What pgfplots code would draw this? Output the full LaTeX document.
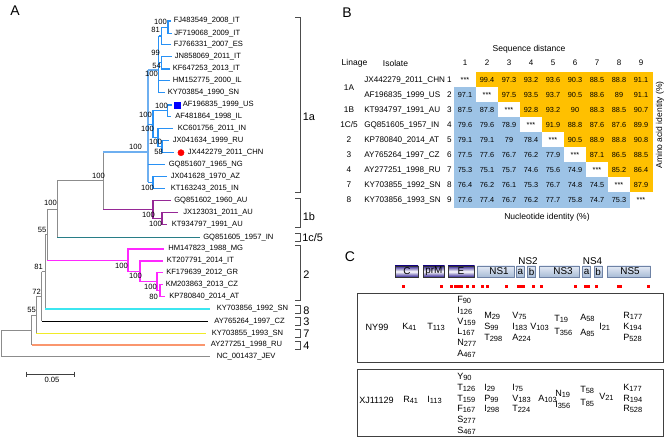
\documentclass[border=0pt]{standalone}
\usepackage{pgfplots}
\pgfplotsset{compat=1.18}
\usepackage{pgfplotstable}
\usepackage{fontspec}
\setmainfont{Liberation Sans}
\definecolor{cA}{RGB}{40,145,245}
\definecolor{cAs}{RGB}{110,175,240}
\definecolor{cB}{RGB}{150,40,150}
\definecolor{cC}{RGB}{40,125,135}
\definecolor{cTwo}{RGB}{255,40,255}
\definecolor{cEight}{RGB}{60,230,240}
\definecolor{cSeven}{RGB}{240,235,40}
\definecolor{cFour}{RGB}{250,150,110}
\definecolor{cG}{RGB}{140,140,140}
\definecolor{gD}{RGB}{55,40,150}
\definecolor{gLt}{RGB}{228,234,245}
\definecolor{gLb}{RGB}{168,188,214}
\definecolor{gLd}{RGB}{110,130,165}
\newcommand{\fs}[1]{\fontsize{#1}{#1}\selectfont}
\newcommand{\sg}[5]{\addplot[#1] coordinates {(#2,#3) (#4,#5)};}
\newcommand{\nd}[6]{\addplot[#1] coordinates {(#3,#4) (#2,#4) (#2,#6) (#5,#6)};}
\newcommand{\tip}[3]{\node[anchor=west,inner sep=0pt,font=\fs{5.7}] at (#1,#2) {#3};}
\newcommand{\bs}[3]{\node[anchor=east,inner sep=0pt,font=\fs{5.7}] at (#1,#2) {#3};}
\newcommand{\rs}[4]{\node[anchor=west,inner sep=0pt,font=\fs{6.8}] at (#1,#2) {#3\raisebox{-0.2ex}{\fs{5.6}#4}};}
\tikzset{gr/.style={cG,line width=0.7pt},
 a/.style={cA,line width=0.8pt},
 b1/.style={cB,line width=0.8pt},
 t2/.style={cTwo,line width=0.8pt},
 brk/.style={black!70,line width=0.6pt},
 gdk/.style={draw=black!80,line width=0.4pt,top color=gD,bottom color=gD,middle color=white},
 glt/.style={draw=gLd,line width=0.4pt,top color=gLt,bottom color=gLb}}
\pgfplotstableread{
x y c v
465 80 1 ***
487 80 2 99.4
509 80 2 97.3
531 80 2 93.2
553 80 2 93.6
575 80 2 90.3
597 80 2 88.5
619 80 2 88.8
641 80 2 91.1
465 95 0 97.1
487 95 1 ***
509 95 2 97.5
531 95 2 93.5
553 95 2 93.7
575 95 2 90.5
597 95 2 88.6
619 95 2 89
641 95 2 91.1
465 110 0 87.5
487 110 0 87.8
509 110 1 ***
531 110 2 92.8
553 110 2 93.2
575 110 2 90
597 110 2 88.3
619 110 2 88.5
641 110 2 90.7
465 125 0 79.6
487 125 0 79.6
509 125 0 78.9
531 125 1 ***
553 125 2 91.9
575 125 2 88.8
597 125 2 87.6
619 125 2 87.6
641 125 2 89.9
465 140 0 79.1
487 140 0 79.1
509 140 0 79
531 140 0 78.4
553 140 1 ***
575 140 2 90.5
597 140 2 88.9
619 140 2 88.8
641 140 2 90.8
465 155 0 77.5
487 155 0 77.6
509 155 0 76.7
531 155 0 76.2
553 155 0 77.9
575 155 1 ***
597 155 2 87.1
619 155 2 86.5
641 155 2 88.5
465 170 0 75.3
487 170 0 75.1
509 170 0 75.7
531 170 0 74.6
553 170 0 75.6
575 170 0 74.9
597 170 1 ***
619 170 2 85.2
641 170 2 86.4
465 185 0 76.4
487 185 0 76.2
509 185 0 76.1
531 185 0 75.3
553 185 0 76.7
575 185 0 74.8
597 185 0 74.5
619 185 1 ***
641 185 2 87.9
465 200 0 77.6
487 200 0 77.4
509 200 0 76.7
531 200 0 76.2
553 200 0 77.7
575 200 0 75.8
597 200 0 74.7
619 200 0 75.3
641 200 1 ***
}\hmtab
\begin{document}
\begin{tikzpicture}
\begin{axis}[x=0.75pt,y=0.75pt,y dir=reverse,xmin=0,xmax=667,ymin=0,ymax=438,
 hide axis,clip=false,
 colormap={hm}{rgb255=(157,195,230) rgb255=(255,255,255) rgb255=(255,192,0)},
 point meta min=0,point meta max=2]
\addplot[draw=none] coordinates {(0,0) (667,438)};
% ---------------- Panel A: tree
\sg{gr}{1}{330}{31.7}{330}
\sg{gr}{1}{330}{1}{356.7}
\sg{gr}{1}{356.7}{210}{356.7}
\sg{gr}{31.7}{315}{31.7}{345}
\sg{gr}{31.7}{315}{36}{315}
\sg{{cFour,line width=0.8pt}}{31.7}{345}{204.5}{345}
\sg{gr}{36}{296.5}{36}{333.3}
\sg{gr}{36}{296.5}{41.7}{296.5}
\sg{{cSeven,line width=0.9pt}}{36}{333.3}{206}{333.3}
\sg{gr}{41.7}{271.6}{41.7}{321.3}
\sg{gr}{41.7}{271.6}{45}{271.6}
\sg{{black,line width=0.7pt}}{41.7}{321.3}{208}{321.3}
\sg{gr}{45}{234.2}{45}{309}
\sg{gr}{45}{234.2}{47}{234.2}
\sg{{cEight,line width=0.8pt}}{45}{309}{210}{309}
\sg{gr}{47}{209}{47}{260.2}
\sg{gr}{47}{209}{57}{209}
\sg{t2}{47}{260.2}{128}{260.2}
\sg{gr}{57}{180.75}{57}{237.3}
\sg{gr}{57}{180.75}{103}{180.75}
\sg{{cC,line width=0.8pt}}{57}{237.3}{200}{237.3}
\sg{gr}{103}{152}{103}{209.5}
\sg{{cAs,line width=1.6pt}}{103}{152}{148}{152}
\sg{b1}{103}{209.5}{153}{209.5}
% 1a
\sg{{cAs,line width=1.4pt}}{148}{70}{148}{182.5}
\sg{{cAs,line width=1.4pt}}{148}{70}{158.5}{70}
\sg{a}{158.5}{36}{158.5}{92.7}
\sg{a}{158.5}{36}{161.5}{36}
\nd{a}{161.5}{168}{27.2}{171}{44.7}
\nd{a}{168}{171}{21}{172}{33.3}
\sg{a}{158.5}{62.9}{161.5}{62.9}
\nd{a}{161.5}{172}{56.7}{170}{69}
\sg{a}{158.5}{80.7}{170}{80.7}
\sg{a}{158.5}{92.7}{165}{92.7}
\sg{a}{148}{124.3}{153}{124.3}
\nd{a}{153}{167.7}{110.9}{158}{137.7}
\nd{a}{167.7}{172}{105}{171}{116.7}
\nd{a}{158}{173}{128.7}{162}{146.7}
\nd{a}{162}{169}{140.7}{174}{152.7}
\sg{a}{148}{164.7}{165}{164.7}
\sg{a}{148}{182.5}{153}{182.5}
\nd{a}{153}{167}{176.7}{165}{188.3}
% 1b
\nd{b1}{153}{171}{200.7}{162}{218.3}
\nd{b1}{162}{178}{212.3}{167}{224.3}
% 2
\nd{t2}{128}{164}{249}{140}{271.3}
\nd{t2}{140}{163}{261}{157}{281.7}
\nd{t2}{157}{163}{272.7}{160}{290.7}
\nd{t2}{160}{162.5}{284.7}{165}{296.7}
% markers
\addplot[only marks,mark=square*,mark size=2.2pt,color=blue] coordinates {(177,105)};
\addplot[only marks,mark=*,mark size=2.3pt,color=red] coordinates {(181,152.7)};
% tip labels
\tip{173.5}{21}{FJ483549\_2008\_IT}
\tip{174}{33.3}{JF719068\_2009\_IT}
\tip{173.5}{44.7}{FJ766331\_2007\_ES}
\tip{174.5}{56.7}{JN858069\_2011\_IT}
\tip{172.5}{69}{KF647253\_2013\_IT}
\tip{172.5}{80.7}{HM152775\_2000\_IL}
\tip{167.5}{92.7}{KY703854\_1990\_SN}
\tip{182.5}{105}{AF196835\_1999\_US}
\tip{175}{116.7}{AF481864\_1998\_IL}
\tip{177.5}{128.7}{KC601756\_2011\_IN}
\tip{172.5}{140.7}{JX041634\_1999\_RU}
\tip{187.5}{152.7}{JX442279\_2011\_CHN}
\tip{168.5}{164.7}{GQ851607\_1965\_NG}
\tip{170.5}{176.7}{JX041628\_1970\_AZ}
\tip{170.5}{188.3}{KT163243\_2015\_IN}
\tip{174}{200.7}{GQ851602\_1960\_AU}
\tip{183}{212.3}{JX123031\_2011\_AU}
\tip{171.5}{224.3}{KT934797\_1991\_AU}
\tip{203}{237.3}{GQ851605\_1957\_IN}
\tip{168}{249}{HM147823\_1988\_MG}
\tip{166.5}{261}{KT207791\_2014\_IT}
\tip{166}{272.7}{KF179639\_2012\_GR}
\tip{165.5}{284.7}{KM203863\_2013\_CZ}
\tip{169}{296.7}{KP780840\_2014\_AT}
\tip{216.5}{309}{KY703856\_1992\_SN}
\tip{214}{321.3}{AY765264\_1997\_CZ}
\tip{211.5}{333.3}{KY703855\_1993\_SN}
\tip{210.5}{345}{AY277251\_1998\_RU}
\tip{216.5}{356.7}{NC\_001437\_JEV}
% bootstrap
\bs{167}{22}{100}
\bs{160}{30}{81}
\bs{160}{53}{99}
\bs{161}{65.5}{54}
\bs{158}{73.5}{100}
\bs{168}{106}{100}
\bs{152}{115}{100}
\bs{154}{129}{100}
\bs{162}{142}{100}
\bs{163}{152}{58}
\bs{142}{147}{100}
\bs{105}{176}{100}
\bs{154}{188}{100}
\bs{57}{203}{100}
\bs{155}{215}{100}
\bs{162}{224}{100}
\bs{46.5}{230}{55}
\bs{128}{266}{100}
\bs{43}{267}{81}
\bs{142}{276}{100}
\bs{157}{287}{100}
\bs{41}{292}{72}
\bs{158}{297}{80}
\bs{36}{310}{55}
% brackets
\addplot[brk] coordinates {(295,17) (300,17) (300,192) (295,192)};
\addplot[brk] coordinates {(295,198) (300,198) (300,227) (295,227)};
\addplot[brk] coordinates {(295,233) (300,233) (300,241) (295,241)};
\addplot[brk] coordinates {(295,245) (300,245) (300,300) (295,300)};
\addplot[brk] coordinates {(295,305) (300,305) (300,313) (295,313)};
\addplot[brk] coordinates {(295,317) (300,317) (300,325) (295,325)};
\addplot[brk] coordinates {(295,329) (300,329) (300,337) (295,337)};
\addplot[brk] coordinates {(295,341) (300,341) (300,349) (295,349)};
\node[anchor=west,inner sep=0pt,font=\fs{8.2}] at (302.5,117) {1a};
\node[anchor=west,inner sep=0pt,font=\fs{8.2}] at (302.5,217) {1b};
\node[anchor=west,inner sep=0pt,font=\fs{8.2}] at (302,238) {1c/5};
\node[anchor=west,inner sep=0pt,font=\fs{8.2}] at (303,275) {2};
\node[anchor=west,inner sep=0pt,font=\fs{8.2}] at (303,310.5) {8};
\node[anchor=west,inner sep=0pt,font=\fs{8.2}] at (303,322) {3};
\node[anchor=west,inner sep=0pt,font=\fs{8.2}] at (303,334) {7};
\node[anchor=west,inner sep=0pt,font=\fs{8.2}] at (303,345.5) {4};
% scale bar
\addplot[black!75,line width=0.6pt] coordinates {(26.7,374) (74,374)};
\addplot[black!75,line width=0.6pt] coordinates {(26.7,371.5) (26.7,376.5)};
\addplot[black!75,line width=0.6pt] coordinates {(74,371.5) (74,376.5)};
\node[font=\fs{5.7},inner sep=0pt] at (52,380) {0.05};
\node[font=\fs{10.5},inner sep=0pt] at (15,10.5) {A};
% ---------------- Panel B
\node[font=\fs{10.5},inner sep=0pt] at (347,12.5) {B};
\addplot[matrix plot*,mesh/cols=9,point meta=explicit] table[x=x,y=y,meta=c] {\hmtab};
\addplot[draw=none,nodes near coords,point meta=explicit symbolic,
  every node near coord/.append style={anchor=center,inner sep=0pt,font=\fs{5.5},black}]
  table[x=x,y=y,meta=v] {\hmtab};
\node[font=\fs{6.4},inner sep=0pt] at (529,49) {Sequence distance};
\node[font=\fs{6.4},inner sep=0pt] at (354.5,63) {Linage};
\node[font=\fs{6.4},inner sep=0pt] at (395.5,63) {Isolate};
\foreach \j/\xx in {1/465,2/487,3/509,4/531,5/553,6/575,7/597,8/619,9/641}{
  \edef\tmp{\noexpand\node[font=\noexpand\fs{6},inner sep=0pt] at (\xx,63) {\j};}\tmp}
\node[font=\fs{6.2},inner sep=0pt] at (349,88) {1A};
\node[font=\fs{6.2},inner sep=0pt] at (349,110) {1B};
\node[font=\fs{6.2},inner sep=0pt] at (349,125) {1C/5};
\node[font=\fs{6.2},inner sep=0pt] at (349,140) {2};
\node[font=\fs{6.2},inner sep=0pt] at (349,155) {3};
\node[font=\fs{6.2},inner sep=0pt] at (349,170) {4};
\node[font=\fs{6.2},inner sep=0pt] at (349,185) {7};
\node[font=\fs{6.2},inner sep=0pt] at (349,200) {8};
\node[anchor=west,font=\fs{6.1},inner sep=0pt] at (364,80) {JX442279\_2011\_CHN};
\node[anchor=west,font=\fs{6.1},inner sep=0pt] at (364,95) {AF196835\_1999\_US};
\node[anchor=west,font=\fs{6.1},inner sep=0pt] at (364,110) {KT934797\_1991\_AU};
\node[anchor=west,font=\fs{6.1},inner sep=0pt] at (364,125) {GQ851605\_1957\_IN};
\node[anchor=west,font=\fs{6.1},inner sep=0pt] at (364,140) {KP780840\_2014\_AT};
\node[anchor=west,font=\fs{6.1},inner sep=0pt] at (364,155) {AY765264\_1997\_CZ};
\node[anchor=west,font=\fs{6.1},inner sep=0pt] at (364,170) {AY277251\_1998\_RU};
\node[anchor=west,font=\fs{6.1},inner sep=0pt] at (364,185) {KY703855\_1992\_SN};
\node[anchor=west,font=\fs{6.1},inner sep=0pt] at (364,200) {KY703856\_1993\_SN};
\foreach \j/\yy in {1/80,2/95,3/110,4/125,5/140,6/155,7/170,8/185,9/200}{
  \edef\tmp{\noexpand\node[font=\noexpand\fs{6.1},inner sep=0pt] at (449.5,\yy) {\j};}\tmp}
\node[font=\fs{6.4},inner sep=0pt,rotate=90] at (660,125) {Amino acid identity (\%)};
\node[font=\fs{6.4},inner sep=0pt] at (547,217) {Nucleotide identity (\%)};
% ---------------- Panel C
\node[font=\fs{10.5},inner sep=0pt] at (350,257) {C};
\draw[gdk] (395,266) rectangle (418,277);
\draw[gdk] (423,266) rectangle (444.5,277);
\draw[gdk] (448,266) rectangle (474.5,277);
\draw[glt] (477.5,266) rectangle (514.5,277);
\draw[glt] (516.5,266) rectangle (524,277);
\draw[glt] (527.3,266) rectangle (535.7,277);
\draw[glt] (539.3,266) rectangle (579.3,277);
\draw[glt] (582.7,266) rectangle (590.7,277);
\draw[glt] (594,266) rectangle (602.3,277);
\draw[glt] (607.3,266) rectangle (650.7,277);
\node[font=\fs{7.4},inner sep=0pt] at (407,271.5) {C};
\node[font=\fs{7.4},inner sep=0pt] at (433.8,271.5) {prM};
\node[font=\fs{7.4},inner sep=0pt] at (461,271.5) {E};
\node[font=\fs{7.4},inner sep=0pt] at (499,271.5) {NS1};
\node[font=\fs{7.4},inner sep=0pt] at (520.3,271.5) {a};
\node[font=\fs{7.4},inner sep=0pt] at (531.5,271.5) {b};
\node[font=\fs{7.4},inner sep=0pt] at (563,271.5) {NS3};
\node[font=\fs{7.4},inner sep=0pt] at (586.7,271.5) {a};
\node[font=\fs{7.4},inner sep=0pt] at (598.2,271.5) {b};
\node[font=\fs{7.4},inner sep=0pt] at (630,271.5) {NS5};
\node[font=\fs{7.4},inner sep=0pt] at (528,261) {NS2};
\node[font=\fs{7.4},inner sep=0pt] at (592.5,261) {NS4};
\addplot[only marks,mark=square*,mark size=0.8pt,color=red] coordinates {
(403,286) (441.5,286) (451.5,286) (455.7,286) (458.3,286) (461,286) (467.5,286) (473,286)
(482,286) (487.5,286) (506.5,286) (518,286) (520.5,286) (523,286) (533.5,286) (541.5,286)
(575,286) (585,286) (588,286) (596.5,286) (618,286) (620.5,286) (648,286)};
\draw[black!75,line width=0.6pt] (357,293) rectangle (663,362);
\draw[black!75,line width=0.6pt] (357,369) rectangle (663,436.5);
\node[font=\fs{6.8},inner sep=0pt] at (377,327) {NY99};
\rs{402}{327}{K}{41}
\rs{427}{327}{T}{113}
\rs{457}{300}{F}{90}
\rs{457}{311}{I}{126}
\rs{457}{321.5}{V}{159}
\rs{457}{332}{L}{167}
\rs{457}{343}{N}{277}
\rs{457}{354}{A}{467}
\rs{484}{316}{M}{29}
\rs{484}{327}{S}{99}
\rs{484}{338}{T}{298}
\rs{512}{316}{V}{75}
\rs{512}{327}{I}{183}
\rs{512}{338}{A}{224}
\rs{530}{327}{V}{103}
\rs{554}{319}{T}{19}
\rs{554}{332}{T}{356}
\rs{580}{318}{A}{58}
\rs{580}{333}{A}{85}
\rs{599}{327}{I}{21}
\rs{623}{316}{R}{177}
\rs{623}{327}{K}{194}
\rs{623}{338}{P}{528}
\node[font=\fs{6.8},inner sep=0pt] at (376.5,400) {XJ11129};
\rs{403}{400}{R}{41}
\rs{427}{400}{I}{113}
\rs{457}{377}{Y}{90}
\rs{457}{388}{T}{126}
\rs{457}{398.5}{T}{159}
\rs{457}{409}{F}{167}
\rs{457}{420}{S}{277}
\rs{457}{431}{S}{467}
\rs{484}{388}{I}{29}
\rs{484}{398.5}{P}{99}
\rs{484}{409}{I}{298}
\rs{512}{388}{I}{75}
\rs{512}{398.5}{V}{183}
\rs{512}{409}{T}{224}
\rs{538}{398.5}{A}{103}
\rs{555}{393.5}{N}{19}
\rs{555}{405}{I}{356}
\rs{580}{390}{T}{58}
\rs{580}{403}{T}{85}
\rs{599}{397}{V}{21}
\rs{623}{388}{K}{177}
\rs{623}{398.5}{R}{194}
\rs{623}{409}{R}{528}
\end{axis}
\end{tikzpicture}
\end{document}
